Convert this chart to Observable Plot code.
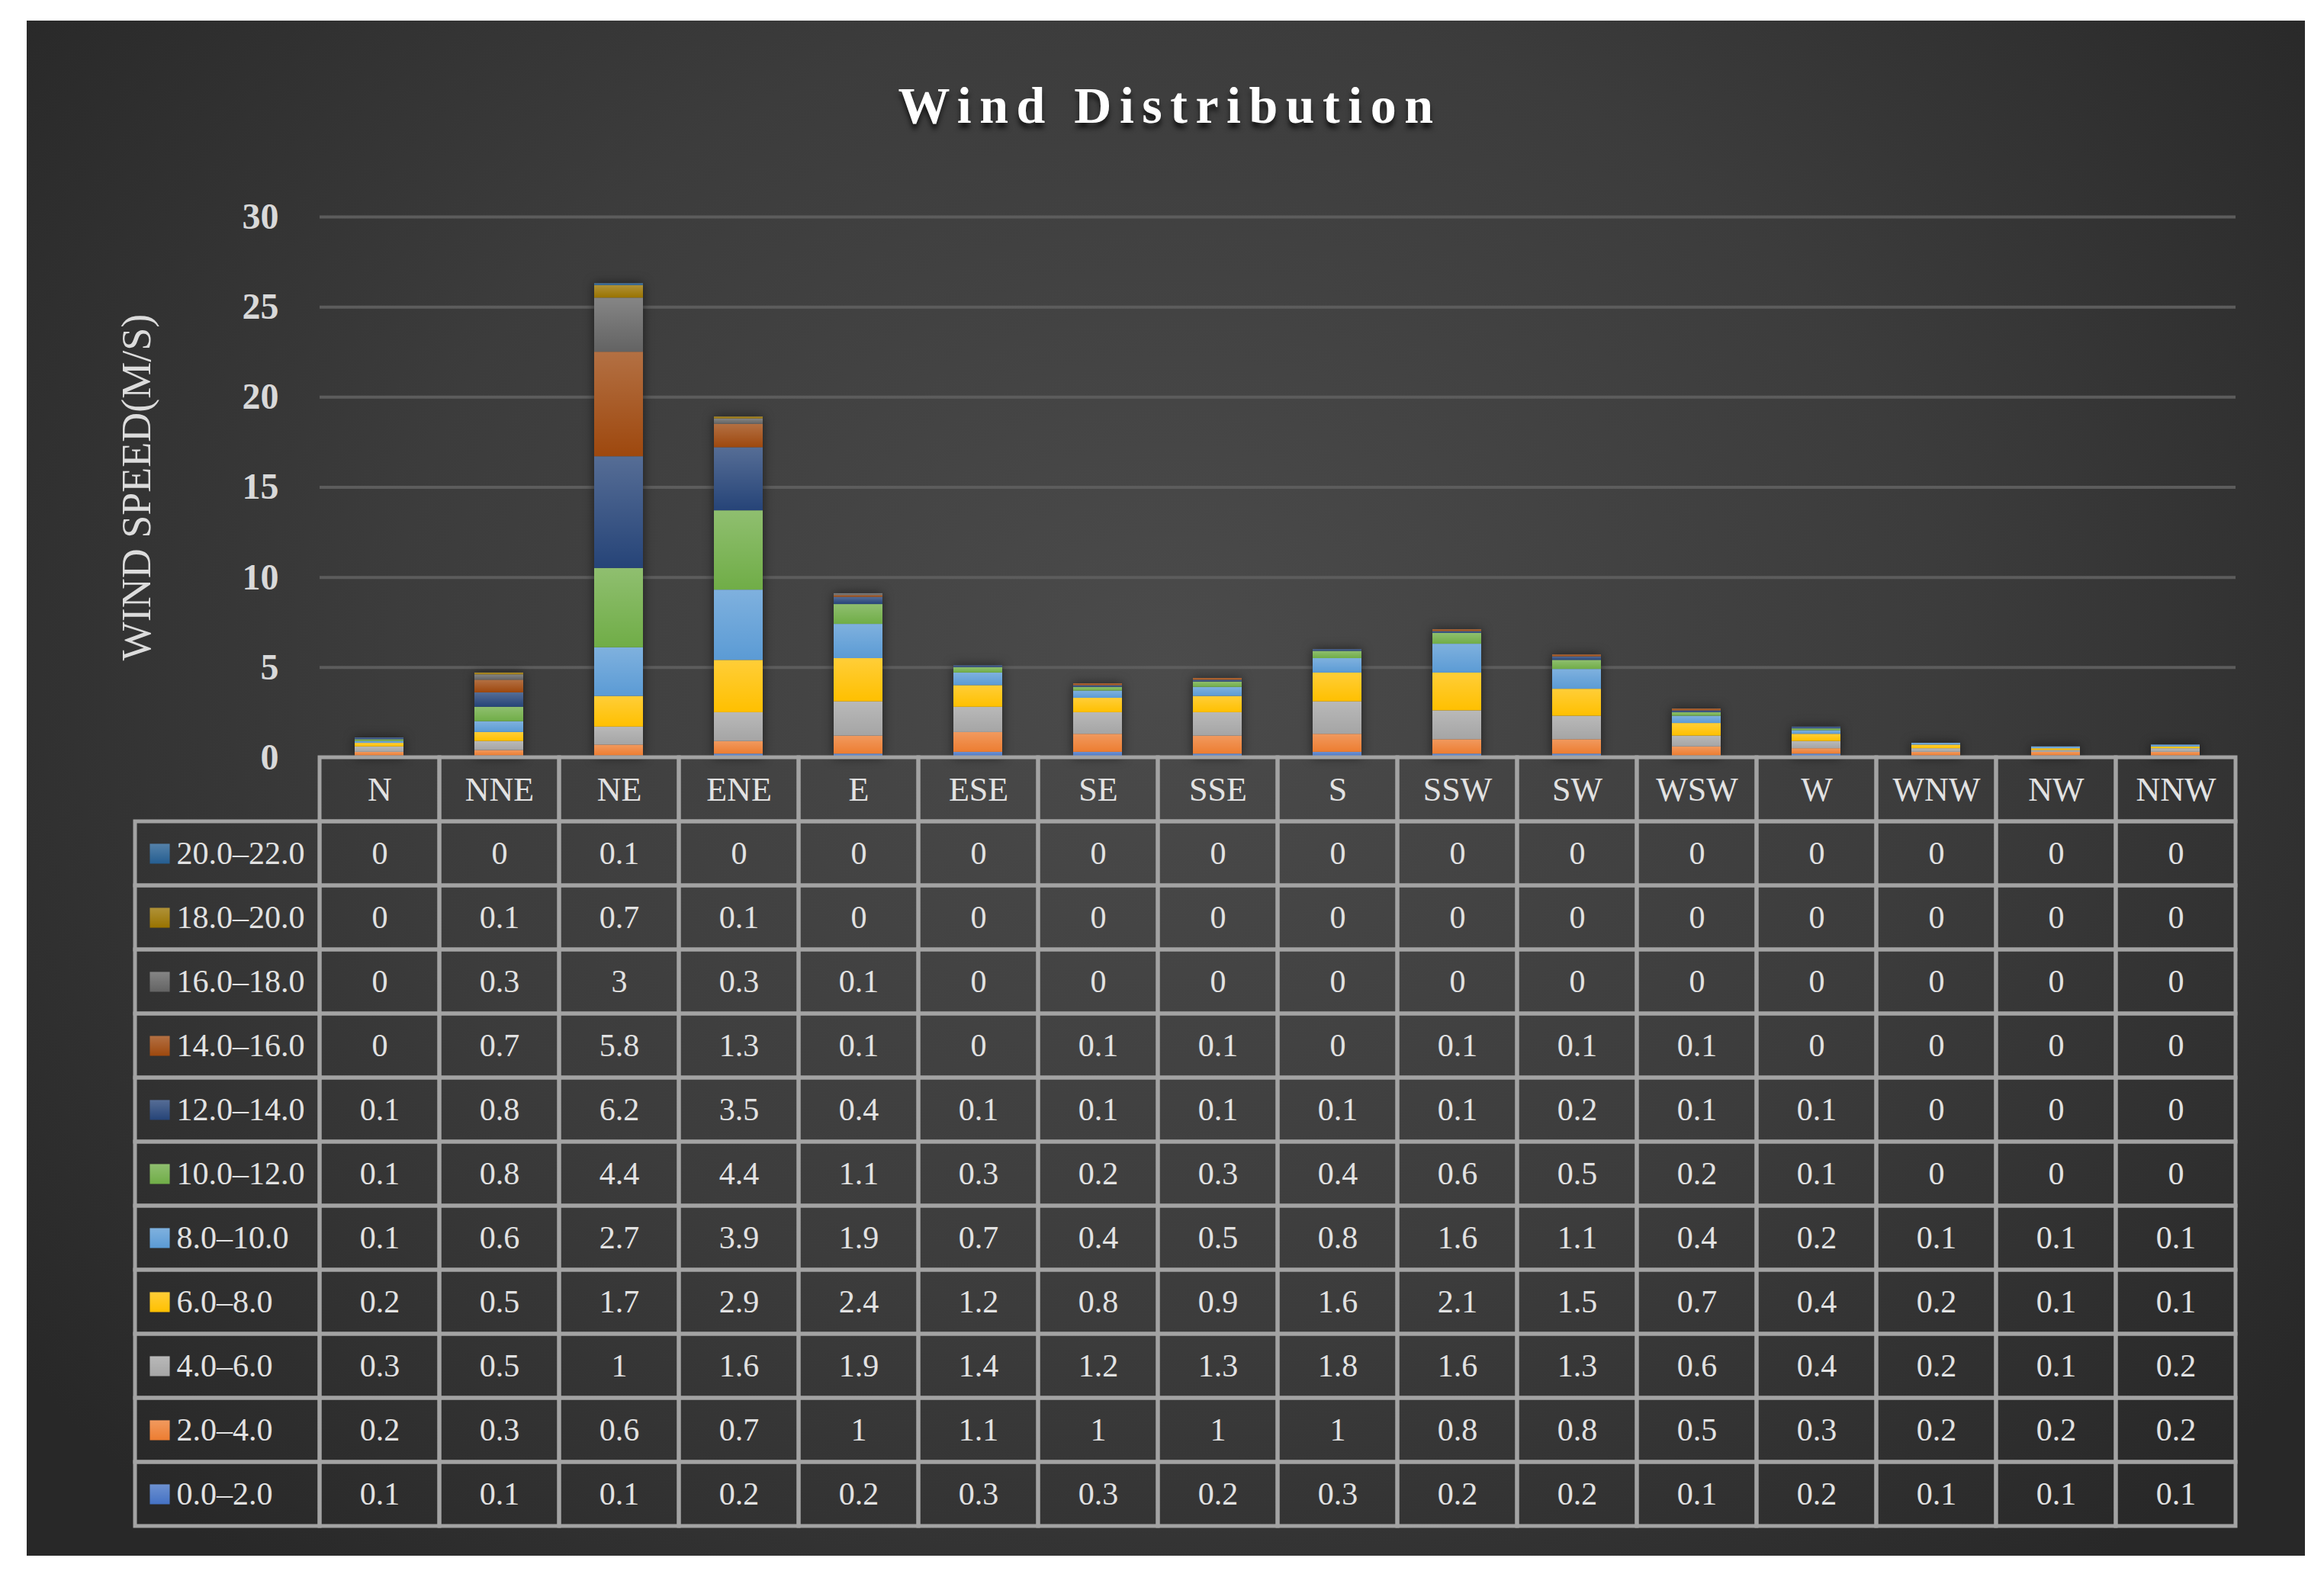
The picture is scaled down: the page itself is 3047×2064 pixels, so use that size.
<!DOCTYPE html>
<html>
<head>
<meta charset="utf-8">
<script src="https://cdn.jsdelivr.net/npm/d3@7"></script>
<script src="https://cdn.jsdelivr.net/npm/@observablehq/plot@0.6"></script>
<style>
  html, body { margin: 0; padding: 0; background: #ffffff; }
  body { width: 3047px; height: 2064px; position: relative; overflow: hidden; font-family: "Liberation Serif", serif; }
  #panel { position: absolute; left: 35px; top: 27px; width: 2987px; height: 2013px;
    background: radial-gradient(ellipse 62% 78% at 50% 42%, #4b4b4b 0%, #3c3c3c 55%, #282828 100%); }
  #title { position: absolute; left: 35px; width: 2987px; top: 98px; line-height: 80px; text-align: center;
    font-family: "Liberation Serif", serif; font-weight: bold; font-size: 68px; letter-spacing: 10.5px; color: #ffffff;
    text-shadow: 0 7px 6px rgba(0,0,0,0.65); padding-left: 10px; box-sizing: border-box; }
  .abs { position: absolute; }
  svg { overflow: visible; }
</style>
</head>
<body>
<div id="panel"></div>
<div id="title"></div>
<div id="bars" class="abs" style="left:35px; top:227px;"></div>
<div id="legend" class="abs" style="left:172px; top:988px;"></div>
<div id="table" class="abs" style="left:414px; top:988px;"></div>
<script>
// ---- data ----
const dirs = ["N","NNE","NE","ENE","E","ESE","SE","SSE","S","SSW","SW","WSW","W","WNW","NW","NNW"];
const bins = ["0.0–2.0","2.0–4.0","4.0–6.0","6.0–8.0","8.0–10.0","10.0–12.0","12.0–14.0","14.0–16.0","16.0–18.0","18.0–20.0","20.0–22.0"];
const colors = ["#4472C4","#ED7D31","#A5A5A5","#FFC000","#5B9BD5","#70AD47","#264478","#9E480E","#636363","#997300","#255E91"];
const s0_2   = [0.1,0.1,0.1,0.2,0.2,0.3,0.3,0.2,0.3,0.2,0.2,0.1,0.2,0.1,0.1,0.1];
const s2_4   = [0.2,0.3,0.6,0.7,1,1.1,1,1,1,0.8,0.8,0.5,0.3,0.2,0.2,0.2];
const s4_6   = [0.3,0.5,1,1.6,1.9,1.4,1.2,1.3,1.8,1.6,1.3,0.6,0.4,0.2,0.1,0.2];
const s6_8   = [0.2,0.5,1.7,2.9,2.4,1.2,0.8,0.9,1.6,2.1,1.5,0.7,0.4,0.2,0.1,0.1];
const s8_10  = [0.1,0.6,2.7,3.9,1.9,0.7,0.4,0.5,0.8,1.6,1.1,0.4,0.2,0.1,0.1,0.1];
const s10_12 = [0.1,0.8,4.4,4.4,1.1,0.3,0.2,0.3,0.4,0.6,0.5,0.2,0.1,0,0,0];
const s12_14 = [0.1,0.8,6.2,3.5,0.4,0.1,0.1,0.1,0.1,0.1,0.2,0.1,0.1,0,0,0];
const s14_16 = [0,0.7,5.8,1.3,0.1,0,0.1,0.1,0,0.1,0.1,0.1,0,0,0,0];
const s16_18 = [0,0.3,3,0.3,0.1,0,0,0,0,0,0,0,0,0,0,0];
const s18_20 = [0,0.1,0.7,0.1,0,0,0,0,0,0,0,0,0,0,0,0];
const s20_22 = [0,0,0.1,0,0,0,0,0,0,0,0,0,0,0,0,0];
const yTicks = [0,5,10,15,20,25,30];
const yLabel = "WIND SPEED(M/S)";
const title = "Wind Distribution";

const series = [s0_2,s2_4,s4_6,s6_8,s8_10,s10_12,s12_14,s14_16,s16_18,s18_20,s20_22];
const long = bins.flatMap((b, i) => dirs.map((d, j) => ({dir: d, bin: b, value: series[i][j]})));
const binsTopDown = bins.slice().reverse();
const rowsDomain = ["hdr", ...binsTopDown];
const cells = [
  ...dirs.map(d => ({dir: d, row: "hdr", label: d, size: 44})),
  ...long.map(r => ({dir: r.dir, row: r.bin, label: String(r.value), size: 42}))
];

const textColor = "#e2e2e2";
const border = "#a3a3a3";

// ---- bar chart ----
const bars = Plot.plot({
  width: 2987, height: 786,
  marginLeft: 384, marginRight: 91, marginTop: 57, marginBottom: 20,
  style: {background: "transparent", color: "#d9d9d9", fontFamily: "Liberation Serif, serif"},
  x: {domain: dirs, paddingInner: 0.59, paddingOuter: 0.295, axis: null},
  y: {domain: [0, 30]},
  color: {domain: bins, range: colors},
  marks: [
    Plot.gridY(yTicks.slice(1), {stroke: "#5c5c5c", strokeOpacity: 1, strokeWidth: 4}),
    Plot.axisY(yTicks, {tickSize: 0, tickPadding: 54, fontSize: 48, fontWeight: "bold", label: null, fill: "#d9d9d9"}),
    Plot.barY(long, {x: "dir", y: "value", fill: "bin"}),
    Plot.barY(long, {x: "dir", y: "value", z: "bin", fill: "url(#shine)"}),
    Plot.text([yLabel], {frameAnchor: "left", textAnchor: "middle", rotate: -90, dx: -240, fontSize: 54, fill: "#dcdcdc"})
  ]
});
{
  const svg = d3.select(bars);
  const defs = svg.insert("defs", ":first-child");
  const g = defs.append("linearGradient").attr("id", "shine").attr("x1", 0).attr("y1", 0).attr("x2", 0).attr("y2", 1);
  g.append("stop").attr("offset", "0%").attr("stop-color", "#ffffff").attr("stop-opacity", 0.22);
  g.append("stop").attr("offset", "100%").attr("stop-color", "#ffffff").attr("stop-opacity", 0);
  const barGroups = svg.selectAll('g[aria-label="bar"]').nodes();
  if (barGroups.length) d3.select(barGroups[0]).style("filter", "drop-shadow(0px 0px 7px rgba(0,0,0,0.55))");
}
document.getElementById("bars").appendChild(bars);

// ---- table ----
const table = Plot.plot({
  width: 2522, height: 1018, margin: 5,
  style: {background: "transparent", fontFamily: "Liberation Serif, serif"},
  x: {domain: dirs, padding: 0, axis: null},
  y: {domain: rowsDomain, padding: 0, axis: null},
  marks: [
    Plot.cell(cells, {x: "dir", y: "row", fill: "none", stroke: border, strokeWidth: 5, inset: 0}),
    Plot.text(cells, {x: "dir", y: "row", text: "label", fill: textColor, fontSize: "size"})
  ]
});
document.getElementById("table").appendChild(table);

// ---- legend column ----
const legend = Plot.plot({
  width: 252, height: 1018, margin: 5,
  style: {background: "transparent", fontFamily: "Liberation Serif, serif"},
  y: {domain: rowsDomain, padding: 0, axis: null},
  color: {domain: bins, range: colors},
  marks: [
    Plot.cell(binsTopDown, {y: d => d, fill: "none", stroke: border, strokeWidth: 5, inset: 0}),
    Plot.dot(binsTopDown, {y: d => d, frameAnchor: "left", dx: 32, symbol: "square", r: 14.7, fill: d => d, stroke: "none"}),
    Plot.dot(binsTopDown, {y: d => d, frameAnchor: "left", dx: 32, symbol: "square", r: 14.7, fill: "url(#shine)", stroke: "none"}),
    Plot.text(binsTopDown, {y: d => d, frameAnchor: "left", dx: 54, textAnchor: "start", fill: textColor, fontSize: 42})
  ]
});
document.getElementById("legend").appendChild(legend);
document.getElementById("title").textContent = title;
</script>
</body>
</html>
